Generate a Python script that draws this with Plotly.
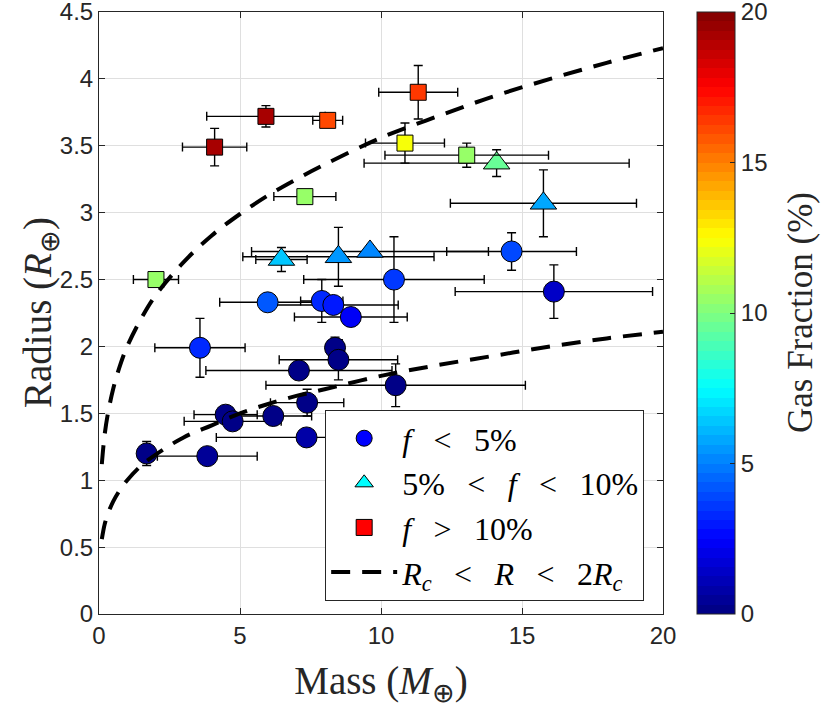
import plotly.graph_objects as go

# ---------------- data ----------------
# f < 5 % (circles)
mass_c = [14.63, 16.13, 10.46, 5.98, 7.90, 8.31, 8.93, 3.58, 8.37, 8.49, 7.09, 10.52, 1.69, 3.84, 4.49, 4.74, 6.18, 7.38, 7.36]
radius_c = [2.71, 2.41, 2.50, 2.33, 2.34, 2.31, 2.22, 1.99, 1.99, 1.90, 1.82, 1.71, 1.20, 1.18, 1.49, 1.44, 1.48, 1.58, 1.32]
mass_err_c = [2.3, 3.5, 3.2, 1.7, 0.75, 2.3, 2.0, 1.6, 0.3, 2.1, 3.3, 4.6, 0.3, 1.77, 1.12, 1.72, 1.36, 1.3, 3.2]
radius_err_c = [0.14, 0.20, 0.32, 0.03, 0.16, 0.03, 0.03, 0.22, 0.08, 0.15, 0.03, 0.16, 0.09, 0.03, 0.03, 0.03, 0.05, 0.10, 0.03]
gas_c = [3.9, 1.3, 3.6, 4.2, 3.3, 2.9, 2.3, 3.3, 0.3, 0.3, 0.3, 0.2, 0.3, 0.4, 0.3, 0.3, 0.3, 0.3, 0.7]

# 5 % < f < 10 % (triangles)
mass_t = [6.47, 8.49, 9.61, 15.76, 14.10]
radius_t = [2.65, 2.67, 2.71, 3.07, 3.37]
mass_err_t = [0.91, 3.39, 4.2, 3.3, 4.7]
radius_err_t = [0.09, 0.22, 0.03, 0.25, 0.10]
gas_t = [6.4, 5.6, 5.2, 5.8, 9.5]

# f > 10 % (squares)
mass_s = [4.10, 5.92, 8.11, 11.32, 10.85, 13.04, 7.30, 2.02]
radius_s = [3.49, 3.72, 3.69, 3.90, 3.52, 3.43, 3.12, 2.50]
mass_err_s = [1.14, 2.1, 0.53, 1.4, 1.4, 2.9, 1.1, 0.8]
radius_err_s = [0.14, 0.08, 0.02, 0.20, 0.15, 0.09, 0.03, 0.03]
gas_s = [19.3, 19.3, 16.1, 16.3, 12.2, 10.4, 10.4, 10.4]

# R_c and 2 R_c curves
curve_mass = [0.1, 0.15, 0.2, 0.3, 0.5, 0.75, 1, 1.5, 2, 3, 4, 5, 6, 7, 8, 10, 12, 14, 16, 18, 20]
curve_low = [0.56, 0.62, 0.67, 0.74, 0.84, 0.93, 1.00, 1.11, 1.19, 1.32, 1.41, 1.50, 1.57, 1.63, 1.68, 1.78, 1.86, 1.93, 2.00, 2.06, 2.11]
curve_high = [1.12, 1.24, 1.34, 1.48, 1.68, 1.86, 2.00, 2.21, 2.38, 2.63, 2.83, 2.99, 3.13, 3.25, 3.36, 3.56, 3.72, 3.87, 4.00, 4.12, 4.23]

x_ticks = [0, 5, 10, 15, 20]
y_ticks = [0, 0.5, 1, 1.5, 2, 2.5, 3, 3.5, 4, 4.5]
cbar_ticks = [0, 5, 10, 15, 20]

SP = "&#8194;&#8201;"  # en + thin space, to mimic TeX relation spacing
legend_labels = [
    "<i>f</i>" + SP + "&lt;" + SP + "5%",
    "5%" + SP + "&lt;" + SP + "<i>f</i>" + SP + "&lt;" + SP + "10%",
    "<i>f</i>" + SP + "&gt;" + SP + "10%",
    "<i>R<sub>c</sub></i>" + SP + "&lt;" + SP + "<i>R</i>" + SP + "&lt;" + SP + "2<i>R<sub>c</sub></i>",
]
x_title = "Mass (<i>M</i><sub>⊕</sub>)"
y_title = "Radius (<i>R</i><sub>⊕</sub>)"
cbar_title = "Gas Fraction (%)"


# ---------------- MATLAB jet(64), stepped ----------------
def jet(n=64):
    cols = []
    for i in range(n):
        t = (i + 0.5) / n
        r = min(max(min(4 * t - 1.5, -4 * t + 4.5), 0), 1)
        g = min(max(min(4 * t - 0.5, -4 * t + 3.5), 0), 1)
        b = min(max(min(4 * t + 0.5, -4 * t + 2.5), 0), 1)
        cols.append("rgb(%d,%d,%d)" % (round(r * 255), round(g * 255), round(b * 255)))
    scale = []
    for i, c in enumerate(cols):
        scale.append([i / n, c])
        scale.append([(i + 1) / n, c])
    return scale


JET = jet(64)
AX = "#262626"
SERIF = "Liberation Serif"
SANS = "Liberation Sans"

fig = go.Figure()


def err(vals):
    return dict(type="data", array=vals, visible=True, color="black", thickness=1.4, width=4.5)


fig.add_trace(go.Scatter(
    x=mass_c, y=radius_c, mode="markers", showlegend=False,
    error_x=err(mass_err_c), error_y=err(radius_err_c),
    marker=dict(symbol="circle", size=21, color=gas_c, colorscale=JET, cmin=0, cmax=20,
                line=dict(color="black", width=1),
                showscale=True,
                colorbar=dict(x=1.0603, xanchor="left", xpad=0, y=0.5, yanchor="middle",
                              len=1, lenmode="fraction", ypad=0, thickness=38,
                              outlinecolor=AX, outlinewidth=1,
                              tickvals=cbar_ticks, ticks="inside", ticklen=5, tickcolor=AX,
                              ticklabeloverflow="allow",
                              tickfont=dict(family=SANS, size=24, color=AX)))))

fig.add_trace(go.Scatter(
    x=mass_t, y=radius_t, mode="markers", showlegend=False,
    error_x=err(mass_err_t), error_y=err(radius_err_t),
    marker=dict(symbol="triangle-up", size=23, color=gas_t, colorscale=JET, cmin=0, cmax=20,
                line=dict(color="black", width=1), showscale=False)))

fig.add_trace(go.Scatter(
    x=mass_s, y=radius_s, mode="markers", showlegend=False,
    error_x=err(mass_err_s), error_y=err(radius_err_s),
    marker=dict(symbol="square", size=16, color=gas_s, colorscale=JET, cmin=0, cmax=20,
                line=dict(color="black", width=1), showscale=False)))

fig.add_trace(go.Scatter(
    x=curve_mass + [None] + curve_mass, y=curve_low + [None] + curve_high,
    mode="lines", line=dict(color="black", width=4, dash="19px,12px", shape="spline"),
    name=legend_labels[3], legendrank=4, showlegend=True))

# legend dummies
fig.add_trace(go.Scatter(x=[None], y=[None], mode="markers", name=legend_labels[0], legendrank=1,
                         marker=dict(symbol="circle", size=20, color="rgb(0,0,255)", line=dict(color="black", width=1))))
fig.add_trace(go.Scatter(x=[None], y=[None], mode="markers", name=legend_labels[1], legendrank=2,
                         marker=dict(symbol="triangle-up", size=20, color="rgb(0,255,255)", line=dict(color="black", width=1))))
fig.add_trace(go.Scatter(x=[None], y=[None], mode="markers", name=legend_labels[2], legendrank=3,
                         marker=dict(symbol="square", size=16, color="rgb(255,0,0)", line=dict(color="black", width=1))))

axis_common = dict(showline=True, linecolor=AX, linewidth=1, mirror="ticks", ticks="inside",
                   ticklen=6, tickcolor=AX, showgrid=True, gridcolor="#dfdfdf", gridwidth=1,
                   zeroline=False, automargin=False, ticklabeloverflow="allow",
                   tickfont=dict(family=SANS, size=24, color=AX))

fig.update_layout(
    width=830, height=710, autosize=False,
    margin=dict(l=99, r=167, t=12, b=96),
    paper_bgcolor="white", plot_bgcolor="white",
    xaxis=dict(range=[0, 20], tickvals=x_ticks,
               title=dict(text=x_title, font=dict(family=SERIF, size=39, color=AX), standoff=18),
               **axis_common),
    yaxis=dict(range=[0, 4.5], tickvals=y_ticks, **axis_common),
    legend=dict(x=0.401, xanchor="left", y=0.339, yanchor="top", bgcolor="white",
                bordercolor=AX, borderwidth=1, font=dict(family=SERIF, size=32, color="black"),
                itemwidth=66, tracegroupgap=0),
    annotations=[
        dict(text=y_title, textangle=-90, xref="paper", yref="paper",
             x=-0.1046, y=0.5, xanchor="center", yanchor="middle", showarrow=False,
             font=dict(family=SERIF, size=39, color=AX)),
        dict(text=cbar_title, textangle=-90, xref="paper", yref="paper",
             x=1.243, y=0.5, xanchor="center", yanchor="middle", showarrow=False,
             font=dict(family=SERIF, size=35, color=AX)),
    ],
)

fig.write_html("out.html", config={"displayModeBar": False},
               post_script="document.body.style.margin='0';document.body.style.padding='0';")
